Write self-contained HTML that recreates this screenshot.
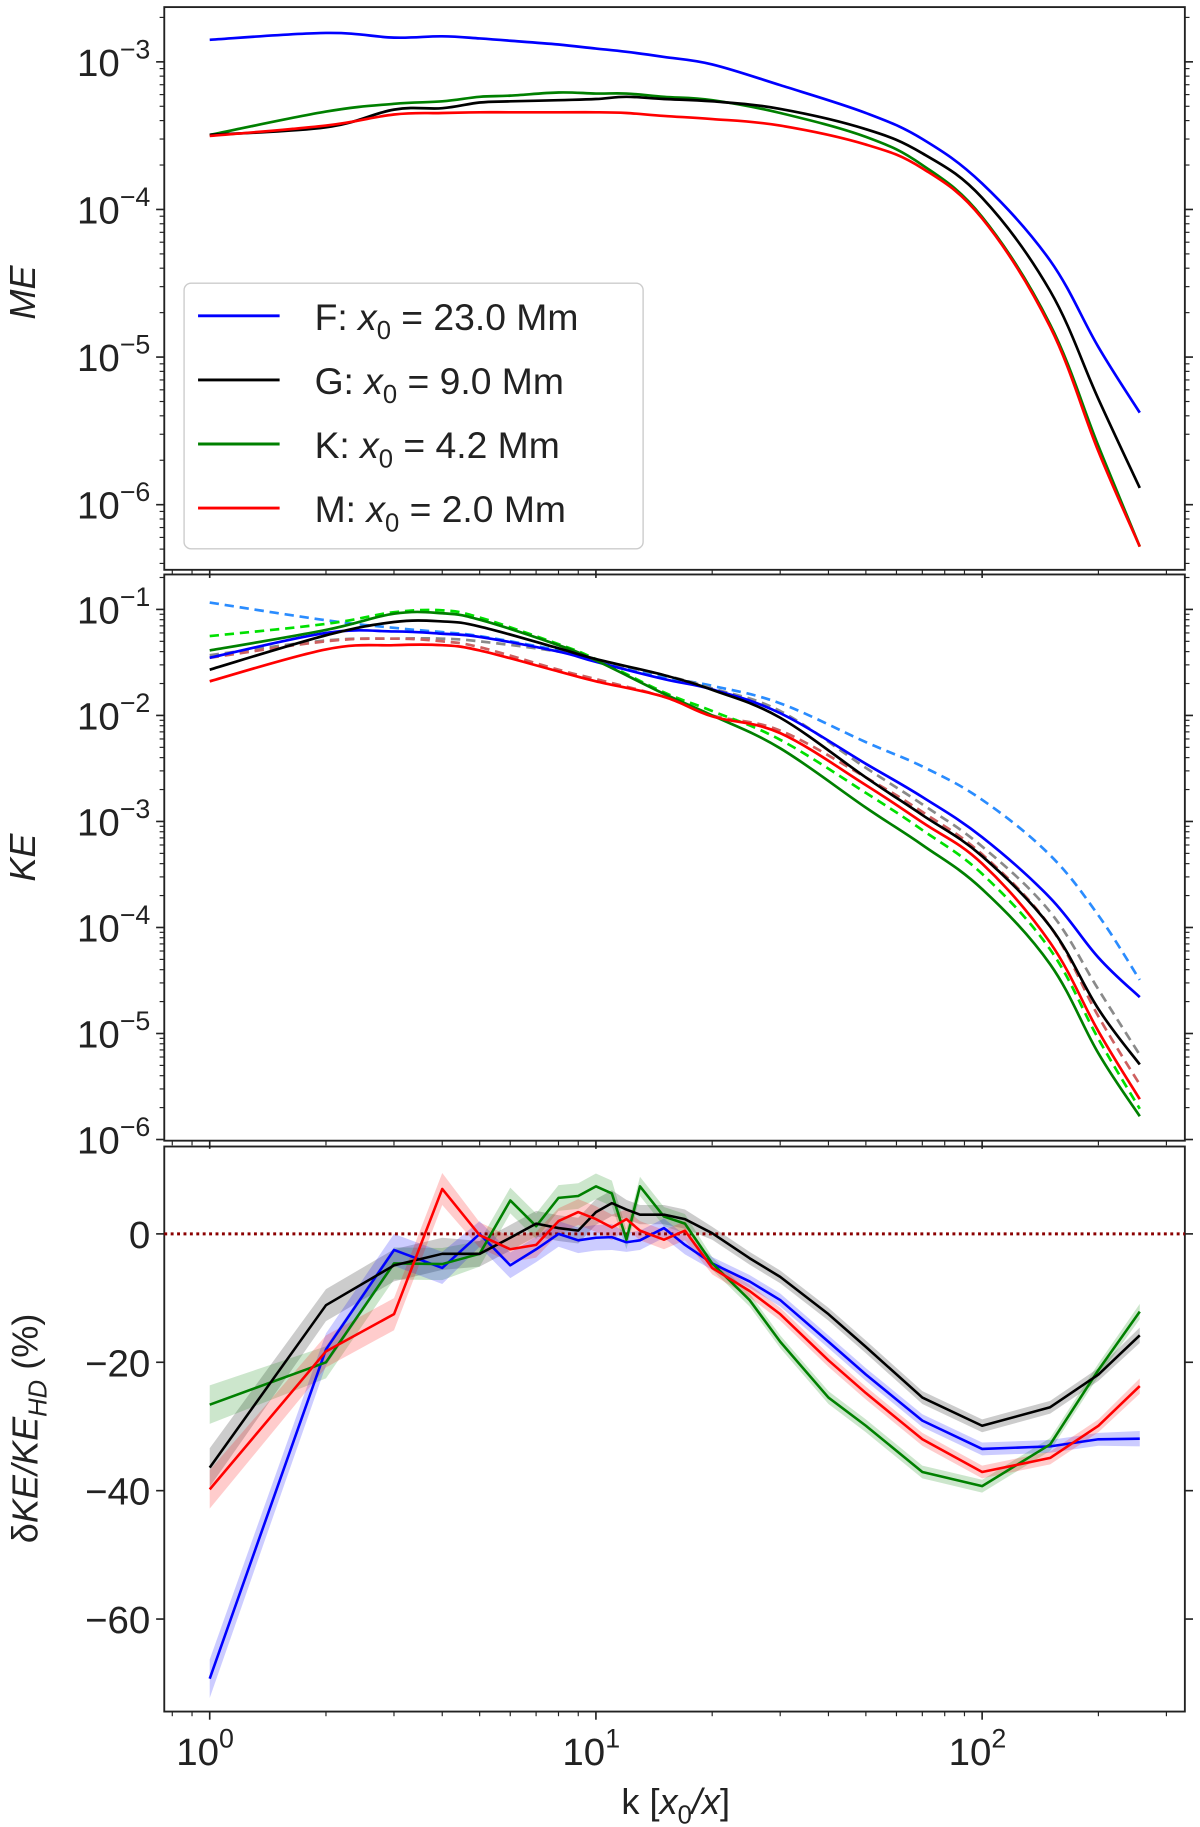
<!DOCTYPE html>
<html><head><meta charset="utf-8"><style>
html,body{margin:0;padding:0;background:#fff}
svg{display:block}
text{font-family:"Liberation Sans","DejaVu Sans",sans-serif;fill:#222}
</style></head><body>
<svg id="fig" width="1200" height="1827" viewBox="0 0 1030 1566" xmlns="http://www.w3.org/2000/svg"></svg>
<script>
// ---------- data ----------
const kTop = [1,2,3,4,5,6,8,10,12,15,20,30,50,70,100,150,200,256];
const meF = [1.41e-3,1.57e-3,1.46e-3,1.49e-3,1.44e-3,1.39e-3,1.31e-3,1.23e-3,1.17e-3,1.08e-3,9.6e-4,6.95e-4,4.5e-4,3.0e-4,1.5e-4,4.5e-5,1.17e-5,4.2e-6];
const meG = [3.2e-4,3.6e-4,4.75e-4,4.85e-4,5.3e-4,5.4e-4,5.5e-4,5.6e-4,5.8e-4,5.6e-4,5.4e-4,4.8e-4,3.5e-4,2.4e-4,1.2e-4,2.8e-5,5.2e-6,1.3e-6];
const meK = [3.2e-4,4.6e-4,5.2e-4,5.4e-4,5.8e-4,5.9e-4,6.2e-4,6.1e-4,6.1e-4,5.8e-4,5.5e-4,4.5e-4,3.1e-4,2.0e-4,8.9e-5,1.66e-5,2.5e-6,5.2e-7];
const meM = [3.15e-4,3.7e-4,4.4e-4,4.5e-4,4.55e-4,4.55e-4,4.55e-4,4.55e-4,4.5e-4,4.3e-4,4.1e-4,3.7e-4,2.75e-4,1.9e-4,8.7e-5,1.6e-5,2.3e-6,5.2e-7];

const kMid = [1,2,3,4,5,8,10,15,20,30,50,70,100,150,200,256];
const keF = [3.5e-2,6.0e-2,6.2e-2,5.9e-2,5.5e-2,4.0e-2,3.2e-2,2.2e-2,1.76e-2,1.05e-2,3.5e-3,1.7e-3,7.1e-4,1.9e-4,5.2e-5,2.2e-5];
const keFhd = [1.16e-1,7.9e-2,6.7e-2,6.1e-2,5.6e-2,4.1e-2,3.3e-2,2.3e-2,1.9e-2,1.3e-2,5.6e-3,3.3e-3,1.6e-3,4.8e-4,1.3e-4,3.2e-5];
const keG = [2.7e-2,5.7e-2,7.6e-2,7.7e-2,6.9e-2,4.3e-2,3.4e-2,2.4e-2,1.74e-2,9.5e-3,2.6e-3,1.15e-3,4.7e-4,1.02e-4,1.7e-5,5.1e-6];
const keGhd = [3.7e-2,5.1e-2,5.3e-2,5.3e-2,5.0e-2,4.0e-2,3.3e-2,2.4e-2,1.8e-2,1.1e-2,3.2e-3,1.45e-3,5.8e-4,1.4e-4,2.6e-5,6.3e-6];
const keK = [4.1e-2,6.4e-2,9.1e-2,9.2e-2,8.0e-2,4.6e-2,3.3e-2,1.6e-2,1.0e-2,4.9e-3,1.35e-3,6.0e-4,2.3e-4,4.5e-5,6.5e-6,1.66e-6];
const keKhd = [5.6e-2,7.3e-2,9.4e-2,9.8e-2,8.4e-2,4.7e-2,3.4e-2,1.65e-2,1.1e-2,5.9e-3,1.86e-3,8.3e-4,3.2e-4,6.2e-5,8.9e-6,1.95e-6];
const keM = [2.1e-2,4.2e-2,4.6e-2,4.6e-2,4.1e-2,2.6e-2,2.1e-2,1.5e-2,9.8e-3,6.8e-3,2.2e-3,9.8e-4,4.0e-4,7.2e-5,1.05e-5,2.4e-6];
const keMhd = [3.5e-2,5.0e-2,5.3e-2,5.0e-2,4.4e-2,2.7e-2,2.2e-2,1.5e-2,1.0e-2,7.2e-3,2.6e-3,1.23e-3,4.9e-4,1.02e-4,1.45e-5,3.3e-6];

const kBot = [1,2,3,4,5,6,7,8,9,10,11,12,13,15,17,20,25,30,40,50,70,100,150,200,256];
const dF = [-69.3,-18,-2.5,-5.3,0,-4.9,-2.4,0,-1,-0.6,-0.5,-1.3,-1,0.9,-1.7,-4.6,-7.4,-10.3,-16.8,-21.9,-29.1,-33.5,-33.1,-32,-31.9];
const dG = [-36.4,-11.1,-4.9,-3.1,-3.1,-0.6,1.6,0.9,0.5,3.4,4.8,3.8,3,3,2.3,0.1,-3.8,-6.7,-12.5,-17.6,-25.5,-29.9,-27,-21.9,-15.8];
const dK = [-26.6,-20,-4.6,-4.7,-3.1,5.2,1.2,5.6,5.9,7.4,6.3,-0.9,7.4,2.7,1.6,-4.6,-10.3,-16.8,-25.5,-29.9,-37.1,-39.3,-32.8,-21.2,-12.1];
const dM = [-39.8,-18.3,-12.5,7,-0.2,-2.4,-1.7,2,3.4,2.3,1,2.3,0.5,-0.9,0.5,-5.3,-8.9,-12.5,-19.7,-24.8,-32,-37.1,-34.9,-29.9,-23.7];
const dErr = [3,2.5,2.5,2.5,2,2,2,2,2,2,2,1.5,1.5,1.5,1.5,1,1,1,1,1,1,1,1,1,1.2];

const xTickLabels = ['0','1','2'];
const meTickExps = [-3,-4,-5,-6];
const keTickExps = [-1,-2,-3,-4,-5,-6];
const dTickVals = [0,-20,-40,-60];

// ---------- helpers ----------
const NS='http://www.w3.org/2000/svg';
const svg=document.getElementById('fig');
function mk(tag,attrs,parent){const e=document.createElementNS(NS,tag);for(const a in attrs)e.setAttribute(a,attrs[a]);(parent||svg).appendChild(e);return e;}
const L=141,R=1017;
const FS=33, SS=23;
const xs=k=>180+331.5*Math.log10(k);
const panels={
 top:{y0:5,y1:488,f:v=>52-126.7*(Math.log10(v)+3)},
 mid:{y0:492,y1:978,f:v=>522-91*(Math.log10(v)+1)},
 bot:{y0:983,y1:1468,f:v=>1058-5.51*v}
};
function pts(ks,vals,f){return ks.map((k,i)=>xs(k).toFixed(1)+','+f(vals[i]).toFixed(1)).join(' ');}
function smoothPath(ks,vals,f){
 const P=ks.map((k,i)=>[xs(k),f(vals[i])]);
 let d='M'+P[0][0].toFixed(1)+','+P[0][1].toFixed(1);
 for(let i=0;i<P.length-1;i++){
  const p0=P[Math.max(0,i-1)],p1=P[i],p2=P[i+1],p3=P[Math.min(P.length-1,i+2)];
  const t=0.18;
  const c1=[p1[0]+(p2[0]-p0[0])*t,p1[1]+(p2[1]-p0[1])*t];
  const c2=[p2[0]-(p3[0]-p1[0])*t,p2[1]-(p3[1]-p1[1])*t];
  d+=' C'+c1[0].toFixed(1)+','+c1[1].toFixed(1)+' '+c2[0].toFixed(1)+','+c2[1].toFixed(1)+' '+p2[0].toFixed(1)+','+p2[1].toFixed(1);
 }
 return d;
}
function frame(p,name){
 const r=mk('rect',{x:L,y:p.y0,width:R-L,height:p.y1-p.y0,fill:'none',stroke:'#222','stroke-width':1.6});
 
 
 for(let d=-1;d<=2;d++){for(let m=1;m<10;m++){const k=m*Math.pow(10,d);const x=xs(k);if(x<L||x>R)continue;
  mk('line',{x1:x,x2:x,y1:p.y1,y2:p.y1+(m==1?7:4),stroke:'#222','stroke-width':m==1?1.4:1});}}
}
function logTicks(p,exps,name){
 const g=mk('g',{});
 
 
 for(let e=-7;e<=0;e++){for(let m=1;m<10;m++){const y=p.f(m*Math.pow(10,e));if(y<p.y0||y>p.y1)continue;const len=m==1?7:4;
  mk('line',{x1:L-len,x2:L,y1:y,y2:y,stroke:'#222','stroke-width':m==1?1.4:1},g);
  mk('line',{x1:R,x2:R+len,y1:y,y2:y,stroke:'#222','stroke-width':m==1?1.4:1},g);}}
 exps.forEach(e=>{const y=p.f(Math.pow(10,e));
  const t=mk('text',{x:L-12,y:y+12,'font-size':FS,'text-anchor':'end'},g);
  t.textContent='10';
  const s=mk('tspan',{dy:-15,'font-size':SS},t);s.textContent='\u2212'+(-e);
  
  
 });
}
function line(p,ks,vals,color,name,dash){
 const a={d:smoothPath(ks,vals,p.f),fill:'none',stroke:color,'stroke-width':2.3,'stroke-linejoin':'round'};
 if(dash)a['stroke-dasharray']='8,5';
 const e=mk('path',a);
 
 
}
function pline(p,ks,vals,color,name){
 const e=mk('polyline',{points:pts(ks,vals,p.f),fill:'none',stroke:color,'stroke-width':2.2,'stroke-linejoin':'round'});
 
 
}
function band(p,ks,vals,err,color,name){
 const up=ks.map((k,i)=>xs(k).toFixed(1)+','+p.f(vals[i]+err[i]).toFixed(1));
 const dn=ks.map((k,i)=>xs(k).toFixed(1)+','+p.f(vals[i]-err[i]).toFixed(1)).reverse();
 const e=mk('polygon',{points:up.concat(dn).join(' '),fill:color,'fill-opacity':0.2,stroke:'none'});
 
 
}

// ---------- top panel ----------
const T=panels.top;
frame(T,'me-panel');logTicks(T,meTickExps,'me');
line(T,kTop,meF,'#0000ff','me-line-f');
line(T,kTop,meK,'#008000','me-line-k');
line(T,kTop,meG,'#000000','me-line-g');
line(T,kTop,meM,'#ff0000','me-line-m');
const lg=mk('g',{});


mk('rect',{x:158,y:242,width:394,height:228,rx:6,fill:'#fff','fill-opacity':0.85,stroke:'#ccc','stroke-width':1.2},lg);
const legItems=[['#0000ff','F','23.0'],['#000000','G','9.0'],['#008000','K','4.2'],['#ff0000','M','2.0']];
legItems.forEach((it,i)=>{const y=270+i*55;
 mk('line',{x1:170,x2:240,y1:y,y2:y,stroke:it[0],'stroke-width':2.5},lg);
 const t=mk('text',{x:270,y:y+12,'font-size':32},lg);
 
 
 const a=mk('tspan',{},t);a.textContent=it[1]+': ';
 const b=mk('tspan',{'font-style':'italic'},t);b.textContent='x';
 const c=mk('tspan',{dy:8,'font-size':22},t);c.textContent='0';
 const d=mk('tspan',{dy:-8},t);d.textContent=' = '+it[2]+' Mm';
});
const yl1=mk('text',{x:0,y:0,'font-size':31,'font-style':'italic','text-anchor':'middle',transform:'translate(30,250) rotate(-90)'});
yl1.textContent='ME';



// ---------- middle panel ----------
const M=panels.mid;
frame(M,'ke-panel');logTicks(M,keTickExps,'ke');
line(M,kMid,keFhd,'#2a8cff','ke-line-f-hd',true);
line(M,kMid,keGhd,'#8a8a8a','ke-line-g-hd',true);
line(M,kMid,keMhd,'#cd6060','ke-line-m-hd',true);
line(M,kMid,keKhd,'#00e000','ke-line-k-hd',true);
line(M,kMid,keF,'#0000ff','ke-line-f');
line(M,kMid,keK,'#008000','ke-line-k');
line(M,kMid,keG,'#000000','ke-line-g');
line(M,kMid,keM,'#ff0000','ke-line-m');
const yl2=mk('text',{x:0,y:0,'font-size':31,'font-style':'italic','text-anchor':'middle',transform:'translate(30,735) rotate(-90)'});
yl2.textContent='KE';



// ---------- bottom panel ----------
const B=panels.bot;
frame(B,'dke-panel');
dTickVals.forEach(v=>{const y=B.f(v);
 mk('line',{x1:L-7,x2:L,y1:y,y2:y,stroke:'#222','stroke-width':1.4});
 mk('line',{x1:R,x2:R+7,y1:y,y2:y,stroke:'#222','stroke-width':1.4});
 const t=mk('text',{x:L-12,y:y+12,'font-size':FS,'text-anchor':'end'});
 t.textContent=v<0?'\u2212'+(-v):String(v);
 
 
});
band(B,kBot,dG,dErr,'#000000','dke-band-g');
band(B,kBot,dK,dErr,'#008000','dke-band-k');
band(B,kBot,dF,dErr,'#0000ff','dke-band-f');
band(B,kBot,dM,dErr,'#ff0000','dke-band-m');
const zl=mk('line',{x1:L,x2:R,y1:B.f(0),y2:B.f(0),stroke:'#8b0000','stroke-width':2.5,'stroke-dasharray':'2.5,3'});


pline(B,kBot,dF,'#0000ff','dke-line-f');
pline(B,kBot,dK,'#008000','dke-line-k');
pline(B,kBot,dG,'#000000','dke-line-g');
pline(B,kBot,dM,'#ff0000','dke-line-m');
const yl3=mk('text',{x:0,y:0,'font-size':31,'text-anchor':'middle',transform:'translate(32,1225) rotate(-90)'});


[['\u03b4',{}],['KE/KE',{'font-style':'italic'}],['HD',{'font-style':'italic','font-size':22,dy:8}],[' (%)',{dy:-8}]].forEach(p=>{const s=mk('tspan',p[1],yl3);s.textContent=p[0];});

xTickLabels.forEach((lab,i)=>{const x=xs(Math.pow(10,i));
 const t=mk('text',{x:x-4,y:1514,'font-size':FS,'text-anchor':'middle'});
 t.textContent='10';
 const s=mk('tspan',{dy:-15,'font-size':SS},t);s.textContent=lab;
 
 
});
const xl=mk('text',{x:580,y:1556,'font-size':31,'text-anchor':'middle'});


[['k [',{}],['x',{'font-style':'italic'}],['0',{'font-size':22,dy:8}],['/',{dy:-8,'font-style':'italic'}],['x',{'font-style':'italic'}],[']',{}]].forEach(p=>{const s=mk('tspan',p[1],xl);s.textContent=p[0];});
</script>
</body></html>
